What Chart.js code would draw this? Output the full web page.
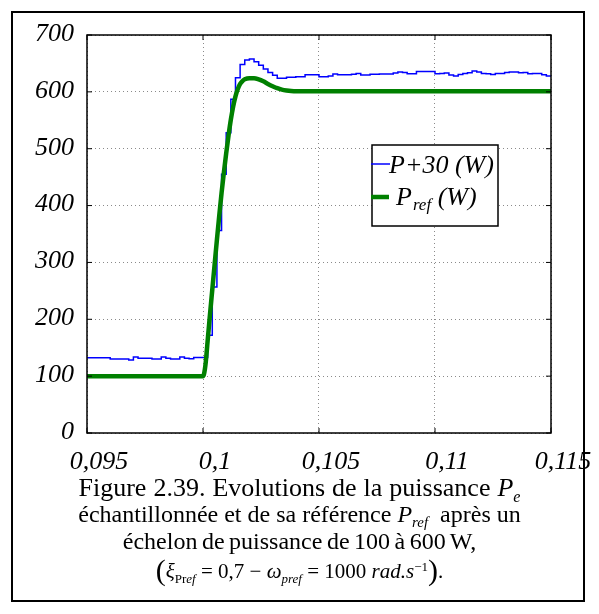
<!DOCTYPE html>
<html>
<head>
<meta charset="utf-8">
<script src="https://cdn.jsdelivr.net/npm/chart.js@4.4.1/dist/chart.umd.min.js"></script>
<style>
  body{margin:0;background:#fff;}
  #wrap{position:relative;width:599px;height:614px;overflow:hidden;background:#fff;}
  #frame{position:absolute;left:11px;top:11px;width:570px;height:587px;border:2px solid #000;}
  #cv{position:absolute;left:0;top:0;width:599px;height:480px;}
  #cap{position:absolute;left:0;top:474px;width:599px;text-align:center;
       font-family:"Liberation Serif","Times New Roman",serif;font-size:24px;line-height:27px;color:#000;}
  #cap sub{font-size:62%;vertical-align:-0.35em;line-height:0;}
  #cap sup{font-size:62%;vertical-align:0.55em;line-height:0;}
  #cap .l1{font-size:26px;word-spacing:0.5px;}
  #cap .l3{word-spacing:-1.5px;}
  #cap .eq{font-size:21px;margin-top:1px;}
  #cap .big{font-size:30px;vertical-align:-2px;}
</style>
</head>
<body>
<div id="wrap">
  <div id="frame"></div>
  <canvas id="cv" width="599" height="480"></canvas>
  <div id="cap">
    <div class="l1">Figure 2.39. Evolutions de la puissance <i>P<sub>e</sub></i></div>
    <div>échantillonnée et de sa référence <i>P<sub>ref</sub></i>&nbsp; après un</div>
    <div class="l3">échelon de puissance de 100 à 600 W,</div>
    <div class="eq"><span class="big">(</span><i>ξ</i><sub>Pr<i>ef</i></sub> = 0,7 − <i>ω</i><sub><i>pref</i></sub> = 1000 <i>rad.s</i><sup>−1</sup><span class="big">)</span>.</div>
  </div>
</div>
<script>
// sampled power P+30 (W), one value per sample period, starting at T0
const T0 = 0.095, TS = 0.0002, T_END = 0.115;
const pSamples = [
  132.5,132.5,132.5,132.5,132.5,130,130,130,130,128.5,
  133.5,131.5,131.5,131.5,130,130,133.5,131.5,130,130,
  133.5,131.5,130.5,133,133,
  133,172,257,356,455,528,587,625,648,656,
  658,653,647,640,634,629,624,624,625.5,625.5,
  626.5,626.7,630,630,630,626.7,626.7,628,631.4,630,
  630,630,631,632.5,629.6,629.6,631,631,631.5,631.5,
  631.5,633,635,634,632,632,636,636,635.8,635.8,
  631.7,632.5,633,629.6,628,630.5,632.5,633.5,636.6,635,
  632.5,631.7,630.5,632.5,632.5,634,635,635,633.5,634,
  631.7,632.5,632.5,630,628
];
// reference power Pref (W)
const prefT = [0.095,0.1,0.10004,0.10008,0.10012,0.10016,0.1002,0.1003,0.1004,0.1005,
  0.1006,0.1007,0.1008,0.1009,0.101,0.1011,0.1012,0.1013,0.1014,0.1015,
  0.1016,0.1017,0.1018,0.102,0.1022,0.1024,0.1026,0.1028,0.103,0.1032,
  0.1034,0.1036,0.1038,0.104,0.115];
const prefV = [100,100,103,112,125,143,162,208,252,296,
  340,382,422,458,492,523,551,574,592,605,
  614,619,622,624,624,622,618.5,614,610,606.5,
  604,602.5,601.5,601,601];

const xTicks = [0.095,0.1,0.105,0.11,0.115];
const xLabels = ['0,095','0,1','0,105','0,11','0,115'];
const yTicks = [0,100,200,300,400,500,600,700];

const pData = pSamples.map((v,i)=>({x:T0+i*TS,y:v}));
pData.push({x:T_END,y:pSamples[pSamples.length-1]});
const refData = prefT.map((t,i)=>({x:t,y:prefV[i]}));

const SERIF = '"Liberation Serif","Times New Roman",serif';
const TICKFONT = {family:SERIF,size:26,style:'italic'};

const framePlugin = {
  id:'frame',
  afterDraw(chart){
    const {ctx, chartArea:a, scales:{x,y}} = chart;
    ctx.save();
    ctx.strokeStyle='#000'; ctx.lineWidth=1.5;
    ctx.strokeRect(a.left,a.top,a.right-a.left,a.bottom-a.top);
    ctx.lineWidth=1;
    ctx.beginPath();
    xTicks.forEach(v=>{const px=x.getPixelForValue(v);
      ctx.moveTo(px,a.bottom);ctx.lineTo(px,a.bottom-5);
      ctx.moveTo(px,a.top);ctx.lineTo(px,a.top+5);});
    yTicks.forEach(v=>{const py=y.getPixelForValue(v);
      ctx.moveTo(a.left,py);ctx.lineTo(a.left+5,py);
      ctx.moveTo(a.right,py);ctx.lineTo(a.right-5,py);});
    ctx.stroke();

    // legend box
    const bx=372, by=145, bw=126, bh=81;
    ctx.fillStyle='#fff'; ctx.fillRect(bx,by,bw,bh);
    ctx.lineWidth=1.5; ctx.strokeStyle='#000'; ctx.strokeRect(bx,by,bw,bh);
    ctx.beginPath(); ctx.rect(bx-2,by,bw+1,bh); ctx.clip();
    const y1=by+19, y2=by+52;
    ctx.strokeStyle='#0000ff'; ctx.lineWidth=1.5;
    ctx.beginPath(); ctx.moveTo(bx-1,y1); ctx.lineTo(bx+18,y1); ctx.stroke();
    ctx.strokeStyle='#008000'; ctx.lineWidth=4.5;
    ctx.beginPath(); ctx.moveTo(bx-1,y2); ctx.lineTo(bx+17,y2); ctx.stroke();
    ctx.fillStyle='#000'; ctx.textBaseline='alphabetic';
    ctx.font='italic 26px '+SERIF;
    ctx.fillText('P+30 (W)',bx+17,y1+9);
    let tx=bx+24;
    ctx.fillText('P',tx,y2+8); tx+=ctx.measureText('P').width+1;
    ctx.font='italic 17px '+SERIF;
    ctx.fillText('ref',tx,y2+13); tx+=ctx.measureText('ref').width;
    ctx.font='italic 26px '+SERIF;
    ctx.fillText(' (W)',tx,y2+8);
    ctx.restore();
  }
};

new Chart(document.getElementById('cv'),{
  type:'line',
  data:{datasets:[
    {label:'Pref (W)',data:refData,borderColor:'#008000',borderWidth:4.5,
     pointRadius:0,cubicInterpolationMode:'monotone',order:0},
    {label:'P+30 (W)',data:pData,borderColor:'#0000ff',borderWidth:1.5,
     pointRadius:0,stepped:'before',order:1}
  ]},
  options:{
    responsive:false,animation:false,events:[],
    layout:{padding:{left:0,right:48,top:35,bottom:0}},
    plugins:{legend:{display:false},tooltip:{enabled:false}},
    scales:{
      x:{type:'linear',min:0.095,max:0.115,
         afterBuildTicks:s=>{s.ticks=xTicks.map(v=>({value:v}));},
         afterFit:s=>{s.height=47;},
         grid:{color:'#8a8a8a',lineWidth:1,drawTicks:false},
         border:{display:false,dash:[1,3]},
         ticks:{font:TICKFONT,color:'#000',padding:14,labelOffset:12,maxRotation:0,autoSkip:false,
                callback:(v,i)=>xLabels[i]}},
      y:{min:0,max:700,
         afterBuildTicks:s=>{s.ticks=yTicks.map(v=>({value:v}));},
         afterFit:s=>{s.width=87;},
         grid:{color:'#8a8a8a',lineWidth:1,drawTicks:false},
         border:{display:false,dash:[1,3]},
         ticks:{font:TICKFONT,color:'#000',padding:13,labelOffset:-1}}
    }
  },
  plugins:[framePlugin]
});
</script>
</body>
</html>
